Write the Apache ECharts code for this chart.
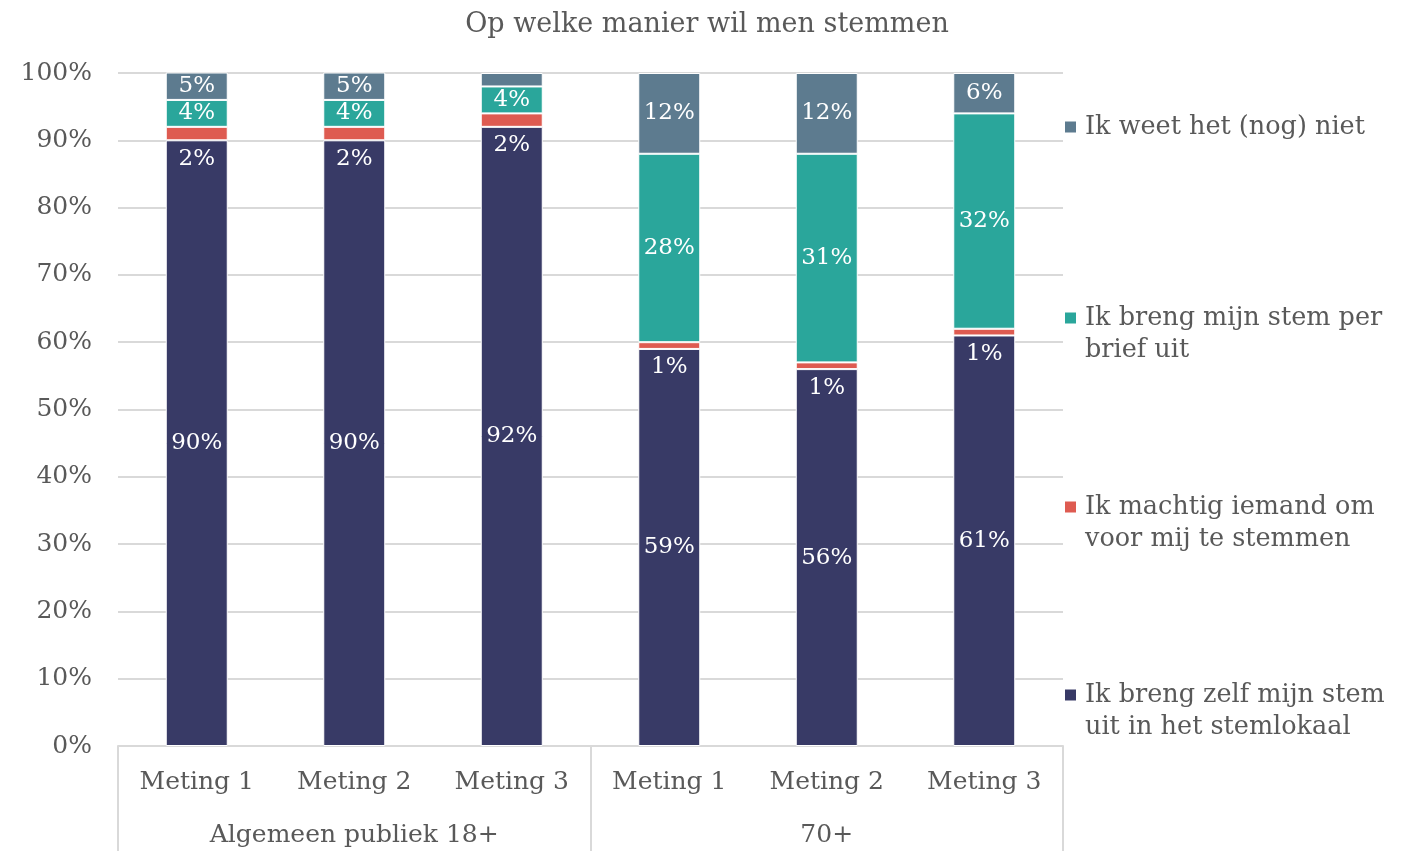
<!DOCTYPE html>
<html>
<head>
<meta charset="utf-8">
<script src="https://cdn.jsdelivr.net/npm/echarts@6/dist/echarts.min.js"></script>
<style>
  html, body { margin: 0; padding: 0; background: #fff; }
  #chart { width: 1414px; height: 851px; }
</style>
</head>
<body>
<div id="chart"></div>
<script>
// categorieen
var metingen = ['Meting 1', 'Meting 2', 'Meting 3', 'Meting 1', 'Meting 2', 'Meting 3'];
var groepen = ['Algemeen publiek 18+', '70+'];

// percentages per antwoord
var zelfStemlokaal = [90, 90, 92, 59, 56, 61];
var machtigen = [2, 2, 2, 1, 1, 1];
var perBrief = [4, 4, 4, 28, 31, 32];
var weetNiet = [5, 5, 2, 12, 12, 6];

var namen = [
    'Ik breng zelf mijn stem uit in het stemlokaal',
    'Ik machtig iemand om voor mij te stemmen',
    'Ik breng mijn stem per brief uit',
    'Ik weet het (nog) niet'
];
// lege eerste regel zodat de eerste tekstregel naast het blokje staat
var legendaTekst = {
    'Ik breng zelf mijn stem uit in het stemlokaal': ' \nIk breng zelf mijn stem\nuit in het stemlokaal',
    'Ik machtig iemand om voor mij te stemmen': ' \nIk machtig iemand om\nvoor mij te stemmen',
    'Ik breng mijn stem per brief uit': ' \nIk breng mijn stem per\nbrief uit',
    'Ik weet het (nog) niet': 'Ik weet het (nog) niet'
};

var font = 'DejaVu Serif';
var grijs = '#595959';
var lijn = '#d9d9d9';

function maakSerie(naam, data, kleur, labelPos) {
    return {
        name: naam,
        type: 'bar',
        stack: 'totaal',
        barWidth: 62,
        data: data,
        itemStyle: { color: kleur, borderColor: '#fff', borderWidth: 1 },
        label: {
            show: true,
            position: labelPos,
            distance: 7,
            color: '#fff',
            fontFamily: font,
            fontSize: 23,
            formatter: function (p) {
                // te kleine segmenten krijgen geen label (behalve de machtiging)
                if (labelPos === 'inside' && p.value < 3) return '';
                return p.value + '%';
            }
        }
    };
}

function maakLegenda(naam, top) {
    return {
        data: [naam],
        left: 1063,
        top: top,
        padding: 0,
        icon: 'rect',
        itemWidth: 13,
        itemHeight: 13,
        itemGap: 0,
        selectedMode: false,
        formatter: function (n) { return legendaTekst[n]; },
        textStyle: {
            fontFamily: font,
            fontSize: 25.5,
            color: grijs,
            lineHeight: 32,
            padding: [0, 0, 0, 3]
        }
    };
}

var myChart = echarts.init(document.getElementById('chart'));
var option = {
    animation: false,
    backgroundColor: '#fff',
    title: {
        text: 'Op welke manier wil men stemmen',
        left: 'center',
        top: 6,
        textStyle: { fontFamily: font, fontSize: 27, fontWeight: 'normal', color: grijs }
    },
    legend: [
        maakLegenda(namen[3], 111),
        maakLegenda(namen[2], 270),
        maakLegenda(namen[1], 459),
        maakLegenda(namen[0], 647)
    ],
    grid: { left: 118, right: 351, top: 73, bottom: 105 },
    xAxis: [
        {
            type: 'category',
            data: metingen,
            position: 'bottom',
            axisLine: { show: true, lineStyle: { color: lijn, width: 2 } },
            axisTick: { show: false },
            axisLabel: { fontFamily: font, fontSize: 25, color: grijs, margin: 24, interval: 0 }
        },
        {
            type: 'category',
            data: groepen,
            position: 'bottom',
            axisLine: { show: false },
            axisTick: { show: true, length: 110, lineStyle: { color: lijn, width: 2 } },
            axisLabel: { fontFamily: font, fontSize: 25, color: grijs, margin: 77 },
            splitLine: { show: false }
        }
    ],
    yAxis: {
        type: 'value',
        min: 0,
        max: 100,
        interval: 10,
        axisLine: { show: false },
        axisTick: { show: false },
        axisLabel: { formatter: '{value}%', fontFamily: font, fontSize: 25, color: grijs, margin: 26 },
        splitLine: { lineStyle: { color: lijn, width: 2 } }
    },
    series: [
        maakSerie(namen[0], zelfStemlokaal, '#383a66', 'inside'),
        maakSerie(namen[1], machtigen, '#de5b51', 'bottom'),
        maakSerie(namen[2], perBrief, '#2aa69b', 'inside'),
        maakSerie(namen[3], weetNiet, '#5d7b8f', 'inside')
    ]
};
myChart.setOption(option, true);
</script>
</body>
</html>
